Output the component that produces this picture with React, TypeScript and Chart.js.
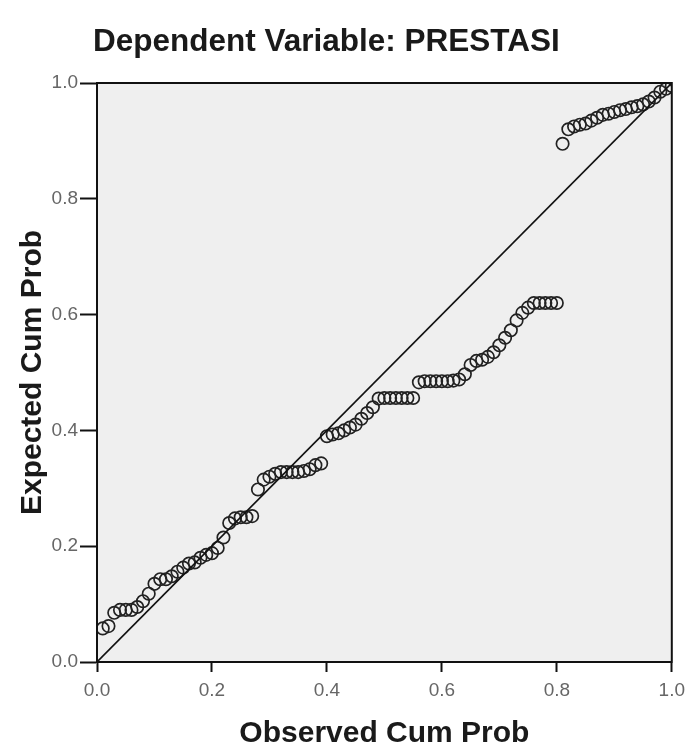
import React, { useEffect, useRef } from "react";
import { Chart, registerables } from "chart.js";

Chart.register(...registerables);

const chartTitle = "Dependent Variable: PRESTASI";
const xAxisTitle = "Observed Cum Prob";
const yAxisTitle = "Expected Cum Prob";
const tickValues = [0, 0.2, 0.4, 0.6, 0.8, 1.0];

const observedCumProb = [
  0.01, 0.02, 0.03, 0.04, 0.05, 0.06, 0.07, 0.08, 0.09, 0.10,
  0.11, 0.12, 0.13, 0.14, 0.15, 0.16, 0.17, 0.18, 0.19, 0.20,
  0.21, 0.22, 0.23, 0.24, 0.25, 0.26, 0.27, 0.28, 0.29, 0.30,
  0.31, 0.32, 0.33, 0.34, 0.35, 0.36, 0.37, 0.38, 0.39, 0.40,
  0.41, 0.42, 0.43, 0.44, 0.45, 0.46, 0.47, 0.48, 0.49, 0.50,
  0.51, 0.52, 0.53, 0.54, 0.55, 0.56, 0.57, 0.58, 0.59, 0.60,
  0.61, 0.62, 0.63, 0.64, 0.65, 0.66, 0.67, 0.68, 0.69, 0.70,
  0.71, 0.72, 0.73, 0.74, 0.75, 0.76, 0.77, 0.78, 0.79, 0.80,
  0.81, 0.82, 0.83, 0.84, 0.85, 0.86, 0.87, 0.88, 0.89, 0.90,
  0.91, 0.92, 0.93, 0.94, 0.95, 0.96, 0.97, 0.98, 0.99, 1.00,
];

const expectedCumProb = [
  0.058, 0.062, 0.085, 0.090, 0.090, 0.090, 0.095, 0.105, 0.118, 0.135,
  0.143, 0.143, 0.148, 0.156, 0.163, 0.170, 0.172, 0.180, 0.185, 0.188,
  0.197, 0.215, 0.240, 0.248, 0.250, 0.250, 0.252, 0.298, 0.315, 0.320,
  0.325, 0.328, 0.328, 0.328, 0.328, 0.330, 0.333, 0.340, 0.343, 0.390,
  0.393, 0.395, 0.400, 0.405, 0.410, 0.420, 0.430, 0.440, 0.455, 0.456,
  0.456, 0.456, 0.456, 0.456, 0.456, 0.483, 0.485, 0.485, 0.485, 0.485,
  0.485, 0.486, 0.488, 0.497, 0.513, 0.520, 0.522, 0.527, 0.535, 0.547,
  0.560, 0.573, 0.590, 0.603, 0.612, 0.620, 0.620, 0.620, 0.620, 0.620,
  0.895, 0.920, 0.925, 0.928, 0.930, 0.935, 0.940, 0.945, 0.947, 0.950,
  0.953, 0.955, 0.958, 0.960, 0.963, 0.968, 0.975, 0.985, 0.990, 0.995,
];

const referenceLine = [0, 1];

const FONT = "'Liberation Sans', Arial, Helvetica, sans-serif";

const plotFrame = {
  id: "plotFrame",
  beforeDraw(chart: any) {
    const { ctx, chartArea } = chart;
    ctx.save();
    ctx.fillStyle = "#efefef";
    ctx.fillRect(chartArea.left, chartArea.top, chartArea.right - chartArea.left, chartArea.bottom - chartArea.top);
    ctx.restore();
  },
  afterDraw(chart: any) {
    const { ctx, chartArea } = chart;
    ctx.save();
    ctx.strokeStyle = "#111";
    ctx.lineWidth = 2;
    ctx.strokeRect(chartArea.left, chartArea.top, chartArea.right - chartArea.left, chartArea.bottom - chartArea.top);
    ctx.fillStyle = "#1a1a1a";
    ctx.font = `bold 31.5px ${FONT}`;
    ctx.textAlign = "left";
    ctx.textBaseline = "middle";
    ctx.fillText(chartTitle, chartArea.left - 4, 42);
    ctx.restore();
  },
};

export default function App() {
  const ref = useRef<HTMLCanvasElement | null>(null);

  useEffect(() => {
    document.body.style.margin = "0";
    const canvas = ref.current;
    if (!canvas) return;
    const points = observedCumProb.map((x, i) => ({ x, y: expectedCumProb[i] }));
    const diag = referenceLine.map((v) => ({ x: v, y: v }));
    const chart = new Chart(canvas, {
      type: "scatter",
      data: {
        datasets: [
          {
            type: "line",
            data: diag,
            borderColor: "#111",
            borderWidth: 1.6,
            pointRadius: 0,
            fill: false,
          } as any,
          {
            data: points,
            pointRadius: 6.2,
            pointBorderWidth: 1.7,
            pointBorderColor: "#222",
            pointBackgroundColor: "rgba(0,0,0,0)",
            showLine: false,
          },
        ],
      },
      options: {
        responsive: false,
        animation: false,
        layout: { padding: { top: 83, right: 15, left: 0, bottom: 0 } },
        plugins: {
          legend: { display: false },
          tooltip: { enabled: false },
          title: { display: false },
        },
        scales: {
          x: {
            type: "linear",
            min: 0,
            max: 1,
            afterBuildTicks: (scale: any) => {
              scale.ticks = tickValues.map((v) => ({ value: v }));
            },
            afterFit: (scale: any) => {
              scale.height = 87;
            },
            ticks: {
              color: "#666",
              font: { family: FONT, size: 19 },
              padding: 7,
              callback: (v: any) => Number(v).toFixed(1),
            },
            grid: {
              drawOnChartArea: false,
              drawTicks: true,
              tickLength: 10,
              tickWidth: 2,
              tickColor: "#111",
              color: "#111",
            },
            border: { display: true, color: "#111", width: 2 },
            title: {
              display: true,
              text: xAxisTitle,
              color: "#1a1a1a",
              font: { family: FONT, size: 30, weight: "bold", lineHeight: 1 },
              padding: { top: 0, bottom: 0 },
            },
          },
          y: {
            type: "linear",
            min: 0,
            max: 1,
            afterBuildTicks: (scale: any) => {
              scale.ticks = tickValues.map((v) => ({ value: v }));
            },
            afterFit: (scale: any) => {
              scale.width = 97;
            },
            ticks: {
              color: "#666",
              font: { family: FONT, size: 19 },
              padding: 2,
              callback: (v: any) => Number(v).toFixed(1),
            },
            grid: {
              drawOnChartArea: false,
              drawTicks: true,
              tickLength: 17,
              tickWidth: 2,
              tickColor: "#111",
              color: "#111",
            },
            border: { display: true, color: "#111", width: 2 },
            title: {
              display: true,
              text: yAxisTitle,
              color: "#1a1a1a",
              font: { family: FONT, size: 30, weight: "bold", lineHeight: 1 },
              padding: { top: 18, bottom: 0 },
            },
          },
        },
      },
      plugins: [plotFrame],
    });
    return () => chart.destroy();
  }, []);

  return (
    <div style={{ position: "fixed", left: 0, top: 0, width: 692, height: 749, background: "#fff" }}>
      <canvas ref={ref} width={692} height={749} style={{ display: "block" }} />
    </div>
  );
}
